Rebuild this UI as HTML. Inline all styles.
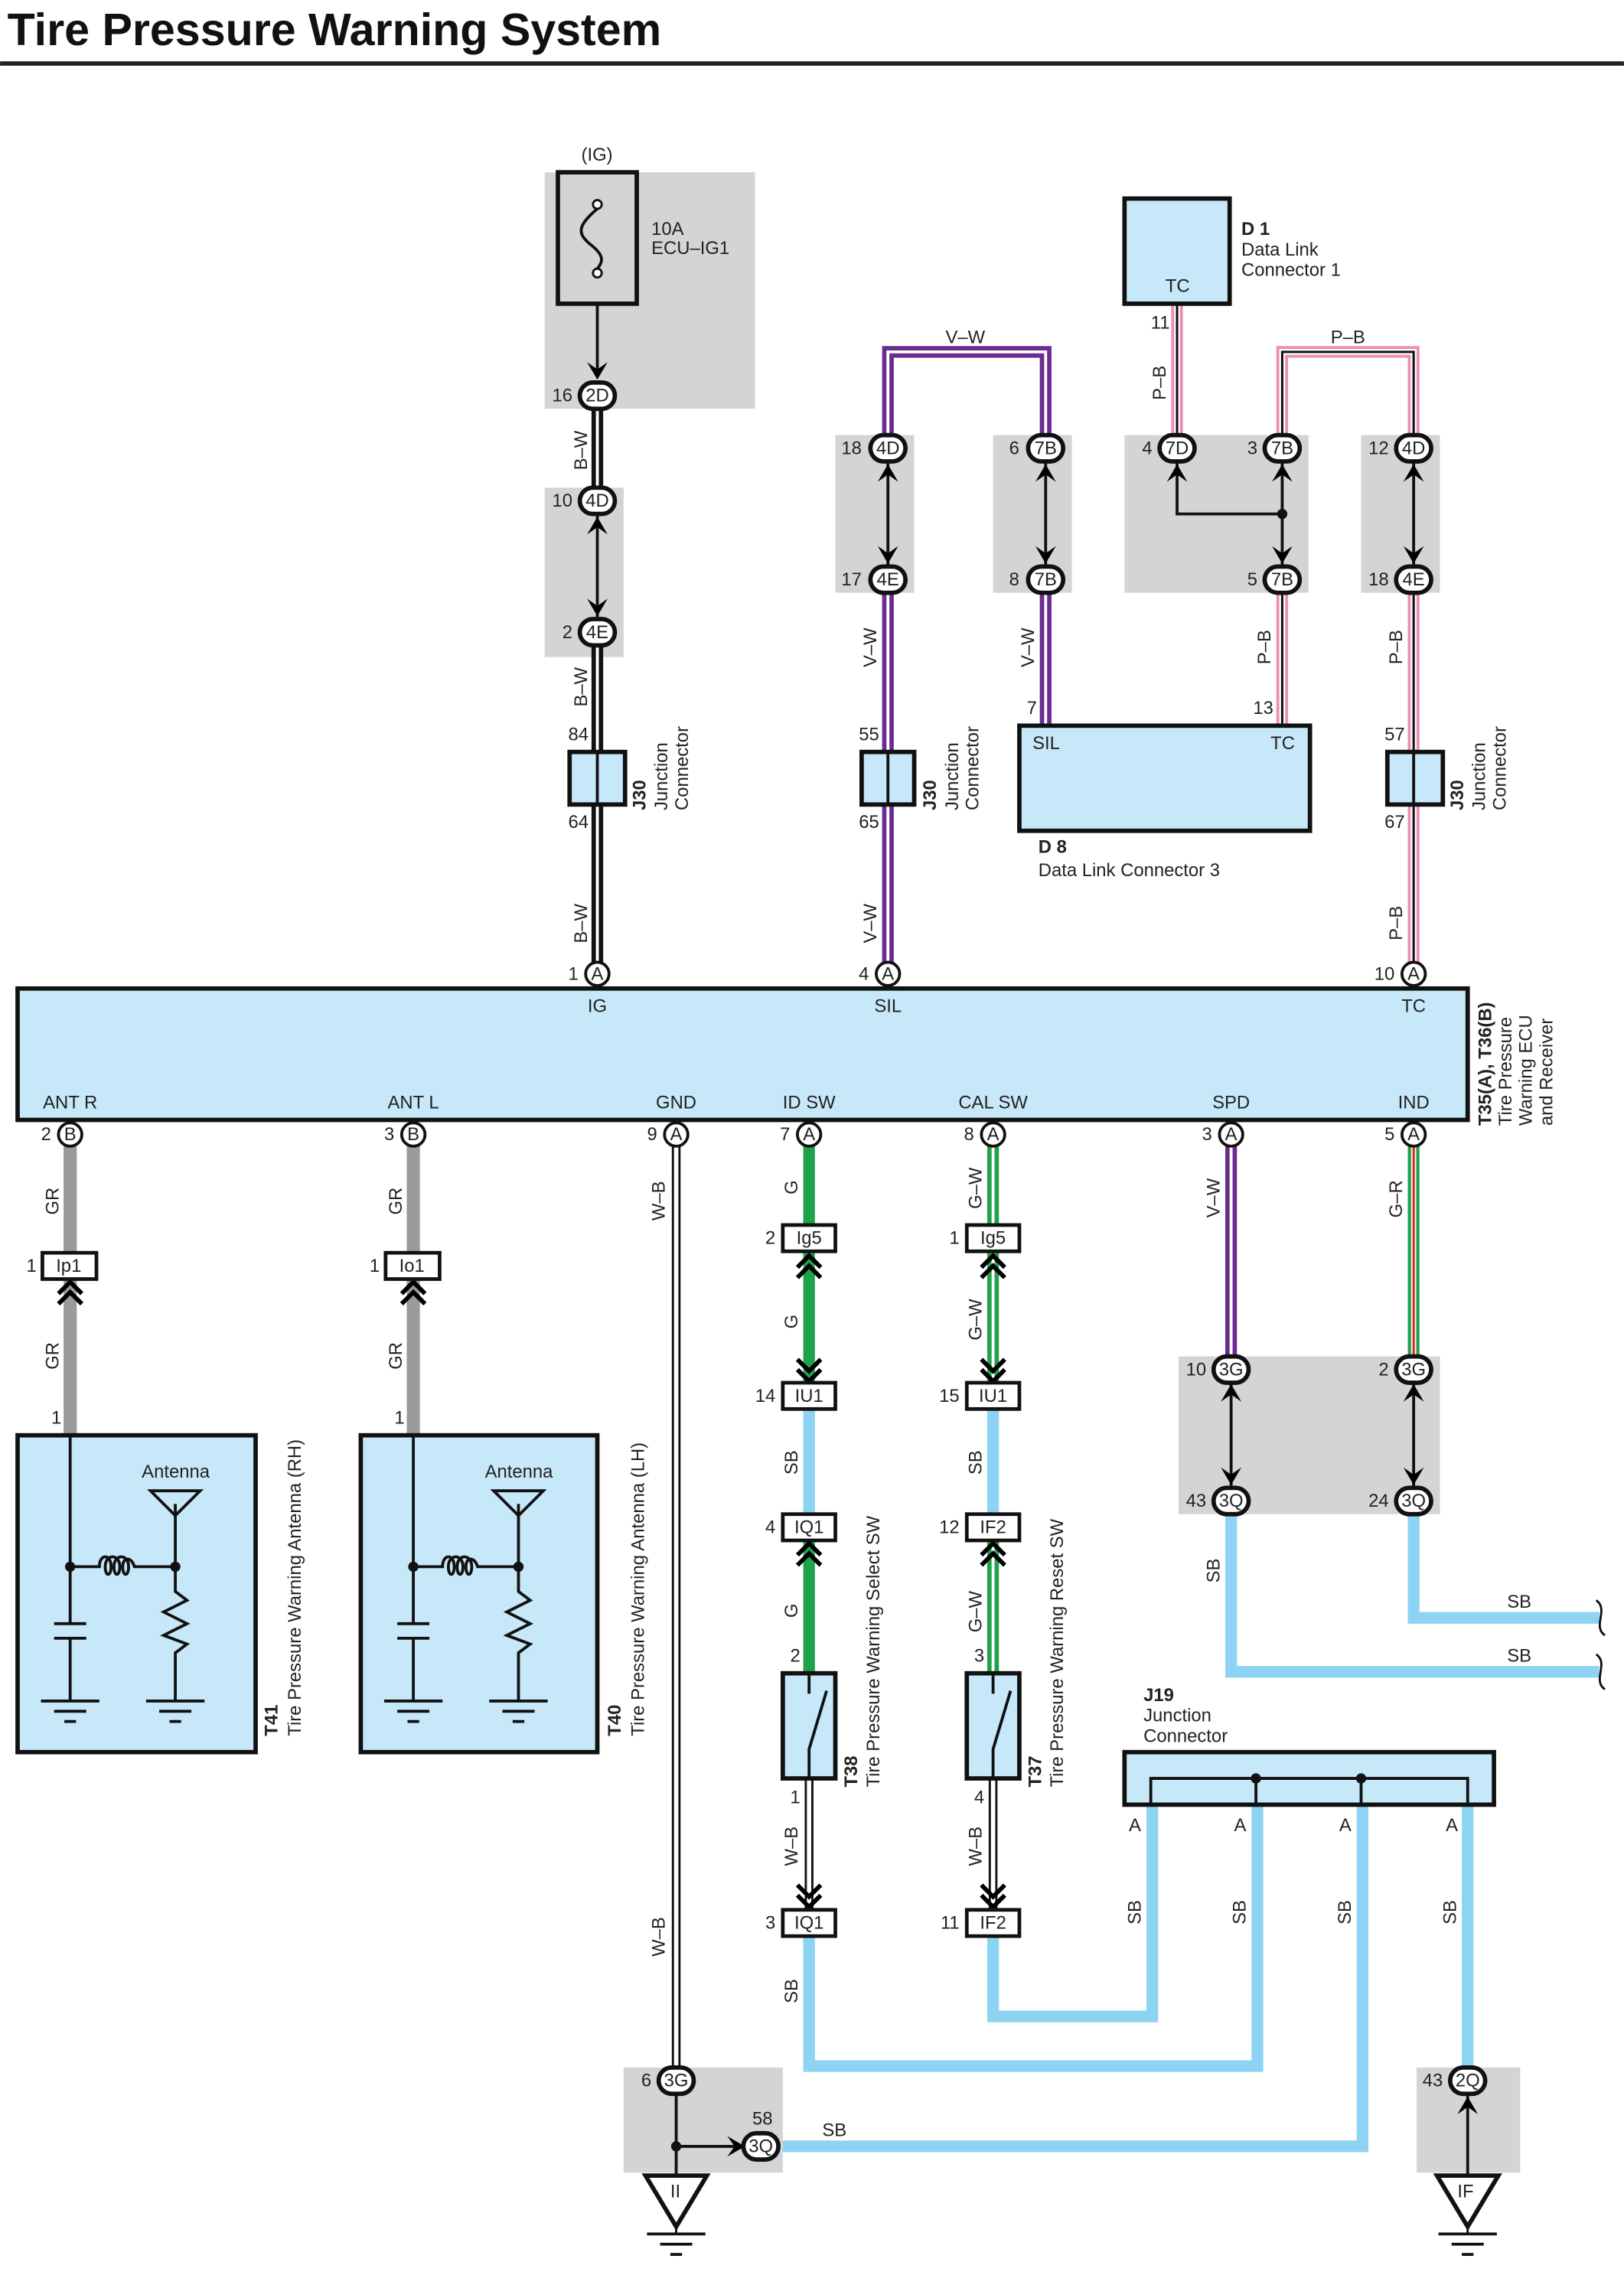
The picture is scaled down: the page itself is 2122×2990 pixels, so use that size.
<!DOCTYPE html>
<html><head><meta charset="utf-8"><style>
html,body{margin:0;padding:0;background:#fff}
svg{display:block}
text{font-family:"Liberation Sans",sans-serif;font-size:12.5px;fill:#222}
.b{font-weight:bold}
</style></head><body>
<svg width="2122" height="2990" viewBox="0 0 1112 1567" xmlns="http://www.w3.org/2000/svg">
<defs>
<g id="ad"><polygon points="0,0 -7,-12 0,-7 7,-12" fill="#000"/></g>
<g id="au"><polygon points="0,0 -7,12 0,7 7,12" fill="#000"/></g>
<g id="chev"><polyline points="-8,8 0,0 8,8" fill="none" stroke="#000" stroke-width="3"/><polyline points="-8,15 0,7 8,15" fill="none" stroke="#000" stroke-width="3"/></g>
<g id="chevd"><polyline points="-8,-8 0,0 8,-8" fill="none" stroke="#000" stroke-width="3"/><polyline points="-8,-15 0,-7 8,-15" fill="none" stroke="#000" stroke-width="3"/></g>
<g id="gnd"><line x1="-20" y1="0" x2="20" y2="0" stroke="#111" stroke-width="2"/><line x1="-11" y1="7" x2="11" y2="7" stroke="#111" stroke-width="2"/><line x1="-4" y1="14" x2="4" y2="14" stroke="#111" stroke-width="2"/></g>
</defs>
<text x="5" y="31" class="b" style="font-size:31px;fill:#111">Tire Pressure Warning System</text>
<rect x="0" y="42" width="1112" height="3" fill="#222"/>

<!-- gray backgrounds -->
<g fill="#d3d4d6">
<rect x="373" y="118" width="144" height="162"/>
<rect x="373" y="334" width="54" height="116"/>
<rect x="572" y="298" width="54" height="108"/>
<rect x="680" y="298" width="54" height="108"/>
<rect x="770" y="298" width="126" height="108"/>
<rect x="932" y="298" width="54" height="108"/>
<rect x="807" y="929" width="179" height="108"/>
<rect x="427" y="1416" width="109" height="72"/>
<rect x="970" y="1416" width="71" height="72"/>
</g>

<!-- SB wires -->
<g fill="none" stroke="#8dd3f3" stroke-width="8">
<path d="M554 956 V1046"/><path d="M680 956 V1046"/>
<path d="M554 1317 V1415 H861 V1236"/>
<path d="M680 1317 V1381 H789 V1236"/>
<path d="M536 1470 H933 V1236"/>
<path d="M1005 1236 V1425"/>
<path d="M843 1028 V1145 H1095"/>
<path d="M968 1028 V1108 H1095"/>
</g>
<!-- GR -->
<g stroke="#9a9a9c" stroke-width="9" fill="none"><path d="M48 777 V983"/><path d="M283 777 V983"/></g>
<!-- G green -->
<g stroke="#1fa34a" stroke-width="8" fill="none"><path d="M554 777 V956"/><path d="M554 1046 V1146"/></g>
<!-- G-W -->
<g fill="none"><path d="M680 777 V956 M680 1046 V1146" stroke="#1fa34a" stroke-width="8"/><path d="M680 777 V956 M680 1046 V1146" stroke="#fff" stroke-width="2"/></g>
<!-- W-B -->
<g fill="none"><path d="M554 1218 V1317 M680 1218 V1317 M463 777 V1425" stroke="#111" stroke-width="6"/><path d="M554 1218 V1317 M680 1218 V1317 M463 777 V1425" stroke="#fff" stroke-width="3"/></g>
<!-- G-R -->
<g fill="none"><path d="M968 777 V938" stroke="#1fa34a" stroke-width="8"/><path d="M968 777 V938" stroke="#fff" stroke-width="3.5"/><path d="M968 777 V938" stroke="#e2232a" stroke-width="1.6"/></g>
<!-- V-W -->
<g fill="none"><path d="M843 777 V938 M608 307 V241 H716 V307 M716 397 V497 M608 397 V667" stroke="#6b2c91" stroke-width="8"/><path d="M843 777 V938 M608 307 V241 H716 V307 M716 397 V497 M608 397 V667" stroke="#fff" stroke-width="2"/></g>
<!-- B-W -->
<g fill="none"><path d="M409 271 V343 M409 433 V667" stroke="#111" stroke-width="8"/><path d="M409 271 V343 M409 433 V667" stroke="#fff" stroke-width="2"/></g>
<!-- P-B -->
<g fill="none"><path d="M806 208 V307 M878 307 V241 H968 V307 M878 397 V497 M968 397 V667" stroke="#ee8db5" stroke-width="8"/><path d="M806 208 V307 M878 307 V241 H968 V307 M878 397 V497 M968 397 V667" stroke="#fff" stroke-width="4"/><path d="M806 208 V307 M878 307 V241 H968 V307 M878 397 V497 M968 397 V667" stroke="#111" stroke-width="1.6"/></g>

<!-- thin internal lines -->
<g stroke="#111" stroke-width="2" fill="none">
<path d="M409 187 V258"/>
<path d="M409 352 V424"/><path d="M608 316 V388"/><path d="M716 316 V388"/><path d="M968 316 V388"/>
<path d="M806 316 V352 H878"/><path d="M878 316 V388"/>
<path d="M843 947 V1019"/><path d="M968 947 V1019"/>
<path d="M463 1434 V1490"/><path d="M463 1470 H508"/>
<path d="M1005 1434 V1490"/>
</g>
<circle cx="878" cy="352" r="3.5" fill="#111"/><circle cx="463" cy="1470" r="3.5" fill="#111"/>
<g>
<use href="#ad" x="409" y="260"/>
<use href="#au" x="409" y="354"/><use href="#ad" x="409" y="422"/>
<use href="#au" x="608" y="318"/><use href="#ad" x="608" y="386"/>
<use href="#au" x="716" y="318"/><use href="#ad" x="716" y="386"/>
<use href="#au" x="806" y="318"/><use href="#au" x="878" y="318"/><use href="#ad" x="878" y="386"/>
<use href="#au" x="968" y="318"/><use href="#ad" x="968" y="386"/>
<use href="#au" x="843" y="948"/><use href="#ad" x="843" y="1017"/>
<use href="#au" x="968" y="948"/><use href="#ad" x="968" y="1017"/>
<use href="#au" x="1005" y="1436"/>
<polygon points="510,1470 498,1463 503,1470 498,1477" fill="#000"/>
<use href="#chev" x="48" y="878"/><use href="#chev" x="283" y="878"/>
<use href="#chev" x="554" y="860"/><use href="#chevd" x="554" y="946"/>
<use href="#chev" x="680" y="860"/><use href="#chevd" x="680" y="946"/>
<use href="#chev" x="554" y="1057"/><use href="#chev" x="680" y="1057"/>
<use href="#chevd" x="554" y="1306"/><use href="#chevd" x="680" y="1306"/>
</g>

<!-- fuse -->
<rect x="382" y="118" width="54" height="90" fill="#d3d4d6" stroke="#111" stroke-width="3"/>
<path d="M409 143 C395 155,395 160,405 168 C415 176,412 180,409 184" fill="none" stroke="#111" stroke-width="2"/>
<circle cx="409" cy="140" r="3" fill="#fff" stroke="#111" stroke-width="1.5"/><circle cx="409" cy="187" r="3" fill="#fff" stroke="#111" stroke-width="1.5"/>
<text x="398" y="110">(IG)</text><text x="446" y="161">10A</text><text x="446" y="174">ECU–IG1</text>

<!-- boxes -->
<g fill="#c7e8f9" stroke="#111" stroke-width="3">
<rect x="770" y="136" width="72" height="72"/>
<rect x="698" y="497" width="199" height="72"/>
<rect x="12" y="677" width="993" height="90"/>
<rect x="12" y="983" width="163" height="217"/>
<rect x="247" y="983" width="162" height="217"/>
<rect x="536" y="1146" width="36" height="72"/>
<rect x="662" y="1146" width="36" height="72"/>
<rect x="770" y="1200" width="253" height="36"/>
<rect x="390" y="515" width="38" height="36"/><rect x="590" y="515" width="36" height="36"/><rect x="950" y="515" width="38" height="36"/>
</g>
<g stroke="#111" stroke-width="2"><line x1="409" y1="515" x2="409" y2="551"/><line x1="608" y1="515" x2="608" y2="551"/><line x1="968" y1="515" x2="968" y2="551"/></g>
<text x="798" y="200">TC</text>
<text x="850" y="161" class="b">D 1</text><text x="850" y="175">Data Link</text><text x="850" y="189">Connector 1</text>
<text x="707" y="513">SIL</text><text x="870" y="513">TC</text>
<text x="711" y="584" class="b">D 8</text><text x="711" y="600">Data Link Connector 3</text>
<!-- switches -->
<g stroke="#111" stroke-width="2" fill="none">
<path d="M554 1146 V1160 M554 1218 V1198 L566 1158"/><path d="M680 1146 V1160 M680 1218 V1198 L692 1158"/>
<path d="M788 1236 V1218 H1005 V1236 M860 1218 V1236 M932 1218 V1236"/>
</g>
<circle cx="860" cy="1218" r="3.5" fill="#111"/><circle cx="932" cy="1218" r="3.5" fill="#111"/>
<text x="783" y="1165" class="b">J19</text><text x="783" y="1179">Junction</text><text x="783" y="1193">Connector</text>
<text x="773" y="1254">A</text><text x="845" y="1254">A</text><text x="917" y="1254">A</text><text x="990" y="1254">A</text>

<!-- antenna internals -->
<g id="ant">
<g stroke="#111" stroke-width="2" fill="none">
<path d="M48 983 V1112 M48 1122 V1165"/>
<path d="M37 1112 H59 M37 1122 H59"/>
<path d="M48 1073 H68 C68 1064,76 1064,76 1073 C76 1080,72 1080,72 1073 C72 1064,82 1064,82 1073 C82 1080,78 1080,78 1073 C78 1064,88 1064,88 1073 C88 1080,84 1080,84 1073 C84 1066,90 1066,92 1073 H120"/>
<path d="M120 1030 V1090 L128 1096 L112 1104 L128 1112 L112 1120 L128 1126 L120 1132 V1165"/>
<path d="M103 1021 H137 L120 1038 Z"/>
</g>
<circle cx="48" cy="1073" r="3.5" fill="#111"/><circle cx="120" cy="1073" r="3.5" fill="#111"/>
<use href="#gnd" x="48" y="1165"/><use href="#gnd" x="120" y="1165"/>
<text x="97" y="1012">Antenna</text>
</g>
<use href="#ant" x="235" y="0"/>

<!-- grounds -->
<polygon points="442,1490 484,1490 463,1525" fill="#fff" stroke="#111" stroke-width="3"/><text x="459" y="1505">II</text><use href="#gnd" x="463" y="1530"/>
<polygon points="984,1490 1026,1490 1005,1525" fill="#fff" stroke="#111" stroke-width="3"/><text x="998" y="1505">IF</text><use href="#gnd" x="1005" y="1530"/>
<g stroke="#111" stroke-width="1.5" fill="none"><path d="M463 1525 V1530 M1005 1525 V1530"/><path d="M1093 1096 C1102 1102,1090 1114,1099 1120"/><path d="M1093 1133 C1102 1139,1090 1151,1099 1157"/></g>

<!-- connector ovals -->
<g fill="#fff" stroke="#111" stroke-width="3">
<rect x="397" y="262" width="24" height="18" rx="9"/><rect x="397" y="334" width="24" height="18" rx="9"/><rect x="397" y="424" width="24" height="18" rx="9"/>
<rect x="596" y="298" width="24" height="18" rx="9"/><rect x="596" y="388" width="24" height="18" rx="9"/>
<rect x="704" y="298" width="24" height="18" rx="9"/><rect x="704" y="388" width="24" height="18" rx="9"/>
<rect x="794" y="298" width="24" height="18" rx="9"/><rect x="866" y="298" width="24" height="18" rx="9"/><rect x="866" y="388" width="24" height="18" rx="9"/>
<rect x="956" y="298" width="24" height="18" rx="9"/><rect x="956" y="388" width="24" height="18" rx="9"/>
<rect x="831" y="929" width="24" height="18" rx="9"/><rect x="831" y="1019" width="24" height="18" rx="9"/>
<rect x="956" y="929" width="24" height="18" rx="9"/><rect x="956" y="1019" width="24" height="18" rx="9"/>
<rect x="451" y="1416" width="24" height="18" rx="9"/><rect x="509" y="1461" width="24" height="18" rx="9"/><rect x="993" y="1416" width="24" height="18" rx="9"/>
</g>
<g fill="#fff" stroke="#111" stroke-width="2">
<circle cx="409" cy="667" r="8"/><circle cx="608" cy="667" r="8"/><circle cx="968" cy="667" r="8"/>
<circle cx="48" cy="777" r="8"/><circle cx="283" cy="777" r="8"/><circle cx="463" cy="777" r="8"/><circle cx="554" cy="777" r="8"/><circle cx="680" cy="777" r="8"/><circle cx="843" cy="777" r="8"/><circle cx="968" cy="777" r="8"/>
</g>
<g fill="#fff" stroke="#111" stroke-width="2.5">
<rect x="29" y="858" width="37" height="18"/><rect x="264" y="858" width="37" height="18"/>
<rect x="536" y="839" width="36" height="18"/><rect x="662" y="839" width="36" height="18"/>
<rect x="536" y="947" width="36" height="18"/><rect x="662" y="947" width="36" height="18"/>
<rect x="536" y="1037" width="36" height="18"/><rect x="662" y="1037" width="36" height="18"/>
<rect x="536" y="1308" width="36" height="18"/><rect x="662" y="1308" width="36" height="18"/>
</g>
<g text-anchor="middle">
<text x="409" y="275">2D</text><text x="409" y="347">4D</text><text x="409" y="437">4E</text>
<text x="608" y="311">4D</text><text x="608" y="401">4E</text><text x="716" y="311">7B</text><text x="716" y="401">7B</text>
<text x="806" y="311">7D</text><text x="878" y="311">7B</text><text x="878" y="401">7B</text>
<text x="968" y="311">4D</text><text x="968" y="401">4E</text>
<text x="843" y="942">3G</text><text x="843" y="1032">3Q</text><text x="968" y="942">3G</text><text x="968" y="1032">3Q</text>
<text x="463" y="1429">3G</text><text x="521" y="1474">3Q</text><text x="1005" y="1429">2Q</text>
<g style="font-size:10px"><text x="409" y="671">A</text><text x="608" y="671">A</text><text x="968" y="671">A</text>
<text x="48" y="781">B</text><text x="283" y="781">B</text><text x="463" y="781">A</text><text x="554" y="781">A</text><text x="680" y="781">A</text><text x="843" y="781">A</text><text x="968" y="781">A</text></g>
<text x="47" y="871">Ip1</text><text x="282" y="871">Io1</text>
<text x="554" y="852">Ig5</text><text x="680" y="852">Ig5</text><text x="554" y="960">IU1</text><text x="680" y="960">IU1</text>
<text x="554" y="1050">IQ1</text><text x="680" y="1050">IF2</text><text x="554" y="1321">IQ1</text><text x="680" y="1321">IF2</text>
<text x="409" y="693">IG</text><text x="608" y="693">SIL</text><text x="968" y="693">TC</text>
<text x="48" y="759">ANT R</text><text x="283" y="759">ANT L</text><text x="463" y="759">GND</text><text x="554" y="759">ID SW</text><text x="680" y="759">CAL SW</text><text x="843" y="759">SPD</text><text x="968" y="759">IND</text>
<text x="661" y="235">V–W</text><text x="923" y="235">P–B</text>
</g>
<g text-anchor="end">
<text x="392" y="275">16</text><text x="392" y="347">10</text><text x="392" y="437">2</text>
<text x="590" y="311">18</text><text x="590" y="401">17</text><text x="698" y="311">6</text><text x="698" y="401">8</text>
<text x="789" y="311">4</text><text x="861" y="311">3</text><text x="861" y="401">5</text><text x="951" y="311">12</text><text x="951" y="401">18</text>
<text x="801" y="225">11</text><text x="710" y="489">7</text><text x="872" y="489">13</text>
<text x="403" y="507">84</text><text x="403" y="567">64</text><text x="602" y="507">55</text><text x="602" y="567">65</text><text x="962" y="507">57</text><text x="962" y="567">67</text>
<text x="396" y="671">1</text><text x="595" y="671">4</text><text x="955" y="671">10</text>
<text x="35" y="781">2</text><text x="270" y="781">3</text><text x="450" y="781">9</text><text x="541" y="781">7</text><text x="667" y="781">8</text><text x="830" y="781">3</text><text x="955" y="781">5</text>
<text x="25" y="871">1</text><text x="260" y="871">1</text><text x="42" y="975">1</text><text x="277" y="975">1</text>
<text x="531" y="852">2</text><text x="657" y="852">1</text><text x="531" y="960">14</text><text x="657" y="960">15</text>
<text x="531" y="1050">4</text><text x="657" y="1050">12</text><text x="548" y="1138">2</text><text x="674" y="1138">3</text>
<text x="548" y="1235">1</text><text x="674" y="1235">4</text><text x="531" y="1321">3</text><text x="657" y="1321">11</text>
<text x="826" y="942">10</text><text x="951" y="942">2</text><text x="826" y="1032">43</text><text x="951" y="1032">24</text>
<text x="446" y="1429">6</text><text x="529" y="1455">58</text><text x="988" y="1429">43</text>
</g>
<text x="563" y="1463">SB</text><text x="1032" y="1101">SB</text><text x="1032" y="1138">SB</text>

<!-- rotated labels -->
<g>
<text transform="translate(402,322) rotate(-90)">B–W</text><text transform="translate(402,484) rotate(-90)">B–W</text><text transform="translate(402,646) rotate(-90)">B–W</text>
<text transform="translate(600,457) rotate(-90)">V–W</text><text transform="translate(600,646) rotate(-90)">V–W</text><text transform="translate(708,457) rotate(-90)">V–W</text>
<text transform="translate(798,274) rotate(-90)">P–B</text><text transform="translate(870,455) rotate(-90)">P–B</text><text transform="translate(960,455) rotate(-90)">P–B</text><text transform="translate(960,644) rotate(-90)">P–B</text>
<text transform="translate(40,832) rotate(-90)">GR</text><text transform="translate(40,938) rotate(-90)">GR</text><text transform="translate(275,832) rotate(-90)">GR</text><text transform="translate(275,938) rotate(-90)">GR</text>
<text transform="translate(455,836) rotate(-90)">W–B</text><text transform="translate(455,1340) rotate(-90)">W–B</text>
<text transform="translate(546,818) rotate(-90)">G</text><text transform="translate(546,910) rotate(-90)">G</text><text transform="translate(546,1010) rotate(-90)">SB</text><text transform="translate(546,1108) rotate(-90)">G</text><text transform="translate(546,1278) rotate(-90)">W–B</text><text transform="translate(546,1372) rotate(-90)">SB</text>
<text transform="translate(672,828) rotate(-90)">G–W</text><text transform="translate(672,918) rotate(-90)">G–W</text><text transform="translate(672,1010) rotate(-90)">SB</text><text transform="translate(672,1118) rotate(-90)">G–W</text><text transform="translate(672,1278) rotate(-90)">W–B</text>
<text transform="translate(835,834) rotate(-90)">V–W</text><text transform="translate(960,834) rotate(-90)">G–R</text><text transform="translate(835,1084) rotate(-90)">SB</text>
<text transform="translate(781,1318) rotate(-90)">SB</text><text transform="translate(853,1318) rotate(-90)">SB</text><text transform="translate(925,1318) rotate(-90)">SB</text><text transform="translate(997,1318) rotate(-90)">SB</text>
<text transform="translate(442,555) rotate(-90)" class="b">J30</text><text transform="translate(457,555) rotate(-90)">Junction</text><text transform="translate(471,555) rotate(-90)">Connector</text>
<text transform="translate(641,555) rotate(-90)" class="b">J30</text><text transform="translate(656,555) rotate(-90)">Junction</text><text transform="translate(670,555) rotate(-90)">Connector</text>
<text transform="translate(1002,555) rotate(-90)" class="b">J30</text><text transform="translate(1017,555) rotate(-90)">Junction</text><text transform="translate(1031,555) rotate(-90)">Connector</text>
<text transform="translate(1021,771) rotate(-90)" class="b">T35(A), T36(B)</text><text transform="translate(1035,771) rotate(-90)">Tire Pressure</text><text transform="translate(1049,771) rotate(-90)">Warning ECU</text><text transform="translate(1063,771) rotate(-90)">and Receiver</text>
<text transform="translate(190,1189) rotate(-90)" class="b">T41</text><text transform="translate(206,1189) rotate(-90)">Tire Pressure Warning Antenna (RH)</text>
<text transform="translate(425,1189) rotate(-90)" class="b">T40</text><text transform="translate(441,1189) rotate(-90)">Tire Pressure Warning Antenna (LH)</text>
<text transform="translate(587,1224) rotate(-90)" class="b">T38</text><text transform="translate(602,1224) rotate(-90)">Tire Pressure Warning Select SW</text>
<text transform="translate(713,1224) rotate(-90)" class="b">T37</text><text transform="translate(728,1224) rotate(-90)">Tire Pressure Warning Reset SW</text>
</g>
</svg>
</body></html>
